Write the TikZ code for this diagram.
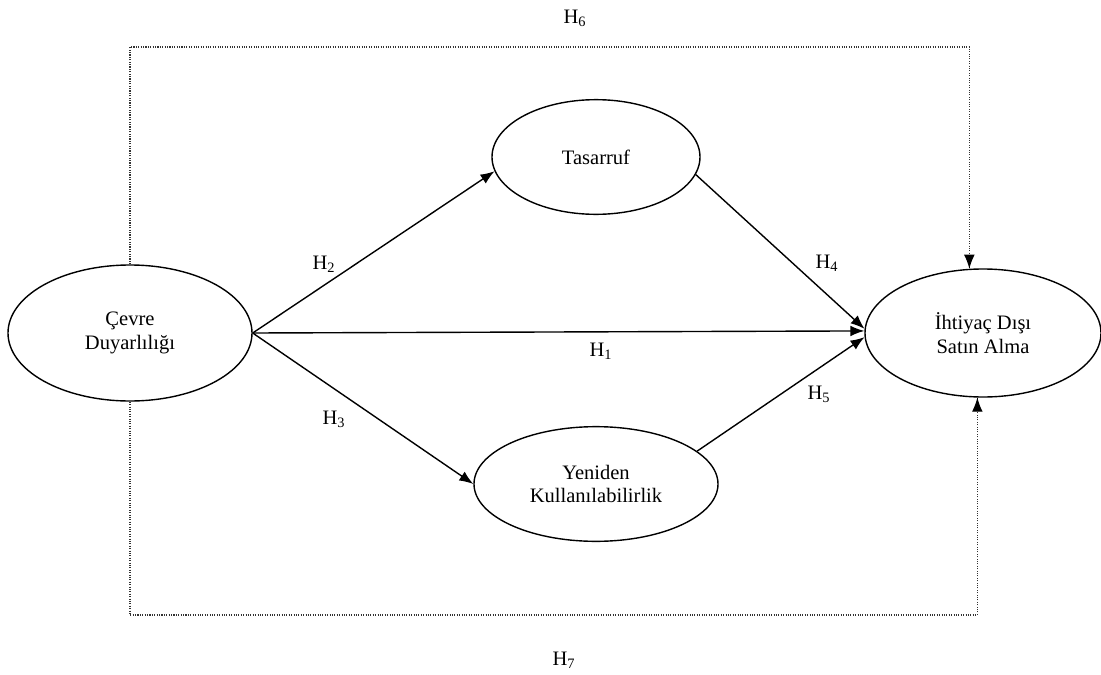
\documentclass[tikz,border=0pt]{standalone}
\usepackage{fontspec}
\setmainfont{Liberation Serif}
\usetikzlibrary{shapes.geometric,arrows.meta}
\begin{document}
\begin{tikzpicture}[x=0.75pt,y=-0.75pt,
  every node/.style={font=\rmfamily\fontsize{15.4}{17.5}\selectfont},
  oval/.style={draw,line width=1.05pt,ellipse,inner sep=0pt,align=center},
  conn/.style={line width=1.05pt,-{Latex[length=10.5pt,width=8pt]}},
  dots/.style={densely dotted,line width=0.8pt,draw=black!80},
  tip/.style={line width=0.8pt,-{Latex[length=10.5pt,width=8pt]}},
  lab/.style={inner sep=0pt}]
\useasboundingbox (0,0) rectangle (1101,675);
\node[oval,minimum width=183pt,minimum height=102pt] (cev) at (130,333) {Çevre\\Duyarlılığı};
\node[oval,minimum width=156pt,minimum height=86pt] (tas) at (596,157) {Tasarruf};
\node[oval,minimum width=183pt,minimum height=86pt] (yen) at (596,484) {Yeniden\\Kullanılabilirlik};
\node[oval,minimum width=177pt,minimum height=96pt] (iht) at (983,333) {İhtiyaç Dışı\\Satın Alma};
% solid connectors
\draw[conn] (cev.east) -- (tas.188);
\draw[conn] (cev.east) -- (iht.179);
\draw[conn] (cev.east) -- (yen.west);
\draw[conn] (tas.-10) -- (iht.178);
\draw[conn] (yen.18) -- (iht.182);
% dotted connectors
\draw[dots] (cev.north) -- (cev.north |- 0,47) -- (iht.102 |- 0,47) -- (iht.102);
\draw[tip] ([yshift=0.5pt]iht.102) -- (iht.102);
\draw[dots] (cev.south) -- (cev.south |- 0,615) -- (iht.265 |- 0,615) -- (iht.265);
\draw[tip] ([yshift=-0.5pt]iht.265) -- (iht.265);
% labels
\node[lab] (h6) at (575,18) {H\textsubscript{6}};
\node[lab] (h2) at (324,264) {H\textsubscript{2}};
\node[lab] (h4) at (827,263) {H\textsubscript{4}};
\node[lab] (h1) at (601,351) {H\textsubscript{1}};
\node[lab] (h3) at (334,419) {H\textsubscript{3}};
\node[lab] (h5) at (819,394) {H\textsubscript{5}};
\node[lab] (h7) at (564,660) {H\textsubscript{7}};
\end{tikzpicture}
\end{document}
